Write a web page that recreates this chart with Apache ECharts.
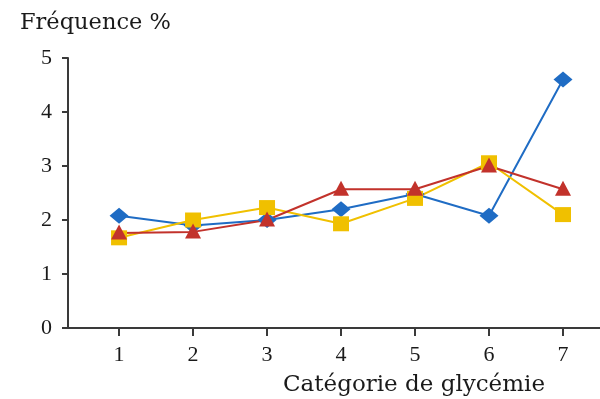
<!DOCTYPE html>
<html>
<head>
<meta charset="utf-8">
<script src="https://cdn.jsdelivr.net/npm/echarts@6/dist/echarts.min.js"></script>
<style>
  html, body { margin: 0; padding: 0; background: #fff; }
  #chart { width: 600px; height: 399px; }
</style>
</head>
<body>
<div id="chart"></div>
<script>
// Glycaemia categories and frequency (%) per group
const categories = [1, 2, 3, 4, 5, 6, 7];
const blueValues = [2.08, 1.9, 2.0, 2.2, 2.48, 2.08, 4.6];
const yellowValues = [1.67, 2.0, 2.23, 1.93, 2.4, 3.06, 2.1];
const redValues = [1.76, 1.78, 2.0, 2.57, 2.57, 3.0, 2.57];
const yTicks = [0, 1, 2, 3, 4, 5];

const axisColor = '#3a3a3a';
const textColor = '#1a1a1a';
const serif = '"Liberation Serif", "Times New Roman", serif';
const wideSerif = '"DejaVu Serif", serif';

function pairs(values) {
  return categories.map((c, i) => [c, values[i]]);
}

function lineSeries(name, values, color, symbol, size, offsetY) {
  return {
    name: name,
    type: 'line',
    data: pairs(values),
    symbol: symbol,
    symbolSize: size,
    symbolOffset: [0, offsetY || 0],
    lineStyle: { color: color, width: 2 },
    itemStyle: { color: color },
    z: 2
  };
}

const chart = echarts.init(document.getElementById('chart'), null, { renderer: 'canvas' });
chart.setOption({
  animation: false,
  backgroundColor: '#fff',
  grid: { left: 68, right: 0, top: 58, bottom: 71, containLabel: false },
  xAxis: {
    type: 'value',
    min: 0.31,
    max: 7.5,
    axisLine: { show: true, lineStyle: { color: axisColor, width: 2 } },
    axisTick: { show: true, length: 8, lineStyle: { color: axisColor, width: 2 }, customValues: categories },
    axisLabel: { customValues: categories, color: textColor, fontFamily: serif, fontSize: 22, margin: 16 },
    splitLine: { show: false }
  },
  yAxis: {
    type: 'value',
    min: 0,
    max: 5,
    interval: 1,
    axisLine: { show: true, lineStyle: { color: axisColor, width: 2 } },
    axisTick: { show: true, length: 6, lineStyle: { color: axisColor, width: 2 } },
    axisLabel: {
      customValues: yTicks,
      color: textColor, fontFamily: serif, fontSize: 22, margin: 16,
      verticalAlign: 'middle'
    },
    splitLine: { show: false }
  },
  series: [
    lineSeries('Série bleue', blueValues, '#1f6cc4', 'diamond', [19, 16]),
    lineSeries('Série jaune', yellowValues, '#f0c000', 'rect', [16, 15]),
    lineSeries('Série rouge', redValues, '#c2322b', 'triangle', [16, 15], -1)
  ],
  graphic: [
    {
      type: 'text',
      left: 20,
      top: 12,
      style: { text: 'Fréquence %', font: '22.5px ' + wideSerif, fill: textColor }
    },
    {
      type: 'text',
      x: 414,
      y: 385,
      style: { text: 'Catégorie de glycémie', font: '23px ' + wideSerif, fill: textColor, align: 'center', verticalAlign: 'middle' }
    }
  ]
});
</script>
</body>
</html>
